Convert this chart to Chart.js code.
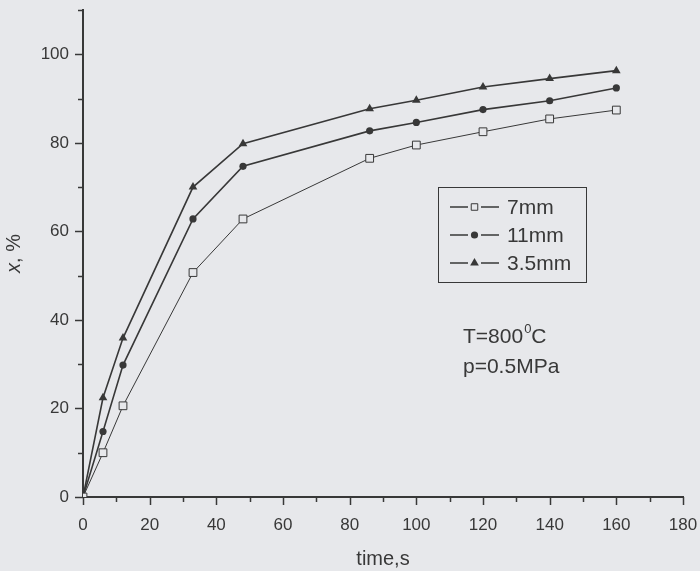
<!DOCTYPE html>
<html>
<head>
<meta charset="utf-8">
<script src="https://cdn.jsdelivr.net/npm/chart.js@4/dist/chart.umd.min.js"></script>
<style>
  html, body { margin: 0; padding: 0; background: #e7e8eb; }
  #wrap { width: 700px; height: 571px; position: relative; }
</style>
</head>
<body>
<div id="wrap"><canvas id="chartCanvas"></canvas></div>
<script>
// time (s) and conversion x (%)
var times = [0, 6, 12, 33, 48, 86, 100, 120, 140, 160];
var x_7mm = [0, 10, 20.6, 50.7, 62.8, 76.5, 79.5, 82.5, 85.4, 87.4];
var x_11mm = [0, 14.8, 29.8, 62.8, 74.7, 82.7, 84.6, 87.5, 89.5, 92.4];
var x_35mm = [0, 22.4, 35.9, 70, 79.8, 87.7, 89.6, 92.6, 94.5, 96.3];
var series_labels = ['7mm', '11mm', '3.5mm'];
var x_ticks = [0, 20, 40, 60, 80, 100, 120, 140, 160, 180];
var y_ticks = [0, 20, 40, 60, 80, 100];

var ink = '#383838';
var paper = '#e7e8eb';
var font = "'Liberation Sans', Arial, sans-serif";

function pts(ys) {
    return times.map(function (t, i) { return {x: t, y: ys[i]}; });
}

const data = {
    datasets: [{
        label: series_labels[0],
        data: pts(x_7mm),
        borderColor: ink, borderWidth: 1,
        pointStyle: 'rect', pointRadius: 5.5,
        pointBackgroundColor: paper, pointBorderColor: ink, pointBorderWidth: 1
    }, {
        label: series_labels[1],
        data: pts(x_11mm),
        borderColor: ink, borderWidth: 1.6,
        pointStyle: 'circle', pointRadius: 3.6,
        pointBackgroundColor: ink, pointBorderColor: ink, pointBorderWidth: 0
    }, {
        label: series_labels[2],
        data: pts(x_35mm),
        borderColor: ink, borderWidth: 1.6,
        pointStyle: 'triangle', pointRadius: 5,
        pointBackgroundColor: ink, pointBorderColor: ink, pointBorderWidth: 0
    }]
};

// ticks (major/minor), axis titles, boxed legend, conditions text
const extras = {
    id: 'extras',
    afterDraw: function (chart) {
        const ctx = chart.ctx;
        const xs = chart.scales.x, ys = chart.scales.y;
        const left = chart.chartArea.left, bottom = chart.chartArea.bottom;
        ctx.save();
        ctx.strokeStyle = ink;
        ctx.lineWidth = 1.5;
        ctx.beginPath();
        for (var v = 0; v <= 180; v += 10) {
            var px = Math.round(xs.getPixelForValue(v)) + 0.5;
            var len = x_ticks.indexOf(v) >= 0 ? 8 : 5;
            ctx.moveTo(px, bottom); ctx.lineTo(px, bottom + len);
        }
        for (var w = 0; w <= 110; w += 10) {
            var py = Math.round(ys.getPixelForValue(w)) + 0.5;
            var l2 = y_ticks.indexOf(w) >= 0 ? 8 : 5;
            ctx.moveTo(left, py); ctx.lineTo(left - l2, py);
        }
        ctx.stroke();

        // axis titles
        ctx.fillStyle = ink;
        ctx.font = '20px ' + font;
        ctx.textAlign = 'center';
        ctx.textBaseline = 'alphabetic';
        ctx.fillText('time,s', (chart.chartArea.left + chart.chartArea.right) / 2, 565);

        ctx.save();
        ctx.translate(20, (chart.chartArea.top + chart.chartArea.bottom) / 2);
        ctx.rotate(-Math.PI / 2);
        ctx.textAlign = 'left';
        ctx.font = 'italic 20px ' + font;
        var wx = ctx.measureText('x').width;
        ctx.font = '20px ' + font;
        var wr = ctx.measureText(', %').width;
        var start = -(wx + wr) / 2;
        ctx.font = 'italic 20px ' + font;
        ctx.fillText('x', start, 0);
        ctx.font = '20px ' + font;
        ctx.fillText(', %', start + wx, 0);
        ctx.restore();

        // legend box
        ctx.lineWidth = 1;
        ctx.strokeRect(438.5, 187.5, 148, 95);
        ctx.font = '21px ' + font;
        ctx.textAlign = 'left';
        ctx.textBaseline = 'middle';
        chart.data.datasets.forEach(function (ds, i) {
            var yy = 207 + i * 28;
            ctx.strokeStyle = ink;
            ctx.lineWidth = 1.5;
            ctx.beginPath();
            ctx.moveTo(450, yy); ctx.lineTo(468, yy);
            ctx.moveTo(481, yy); ctx.lineTo(499, yy);
            ctx.stroke();
            ctx.lineWidth = ds.pointBorderWidth || 1;
            ctx.fillStyle = ds.pointBackgroundColor;
            ctx.strokeStyle = ds.pointBorderColor;
            Chart.helpers.drawPoint(ctx, {
                pointStyle: ds.pointStyle,
                radius: ds.pointStyle === 'rect' ? 4.6 : ds.pointRadius,
                borderWidth: ds.pointBorderWidth
            }, 474.5, yy);
            ctx.fillStyle = ink;
            ctx.fillText(ds.label, 507, yy + 1);
        });

        // conditions
        ctx.textBaseline = 'alphabetic';
        ctx.font = '21px ' + font;
        var tx = 463, ty = 343;
        ctx.fillText('T=800', tx, ty);
        tx += ctx.measureText('T=800').width;
        ctx.font = '13px ' + font;
        ctx.fillText('0', tx + 1, ty - 10);
        tx += ctx.measureText('0').width + 1;
        ctx.font = '21px ' + font;
        ctx.fillText('C', tx, ty);
        ctx.fillText('p=0.5MPa', 463, 373);
        ctx.restore();
    }
};

function noPad(s) {
    s.paddingLeft = 0; s.paddingRight = 0; s.paddingTop = 0; s.paddingBottom = 0;
}

function makeChart() {
    new Chart(document.getElementById('chartCanvas'), {
        type: 'line',
        data: data,
        plugins: [extras],
        options: {
            responsive: true,
            maintainAspectRatio: false,
            animation: false,
            layout: {padding: {top: 10, right: 17, left: 0, bottom: 0}},
            elements: {line: {tension: 0}},
            plugins: {legend: {display: false}, tooltip: {enabled: false}},
            scales: {
                x: {
                    type: 'linear', min: 0, max: 180,
                    afterFit: function (s) { s.height = 74; noPad(s); },
                    border: {color: ink, width: 2},
                    grid: {drawOnChartArea: false, tickLength: 8, tickColor: 'rgba(0,0,0,0)'},
                    ticks: {
                        stepSize: 10, padding: 10, color: ink, maxRotation: 0, autoSkip: false,
                        font: {family: font, size: 17},
                        callback: function (v) { return x_ticks.indexOf(v) >= 0 ? v : ''; }
                    }
                },
                y: {
                    min: 0, max: 110,
                    afterFit: function (s) { s.width = 83; noPad(s); },
                    border: {color: ink, width: 2},
                    grid: {drawOnChartArea: false, tickLength: 8, tickColor: 'rgba(0,0,0,0)'},
                    ticks: {
                        stepSize: 10, padding: 6, color: ink, autoSkip: false,
                        font: {family: font, size: 17},
                        callback: function (v) { return y_ticks.indexOf(v) >= 0 ? v : ''; }
                    }
                }
            }
        }
    });
}

makeChart();
</script>
</body>
</html>
